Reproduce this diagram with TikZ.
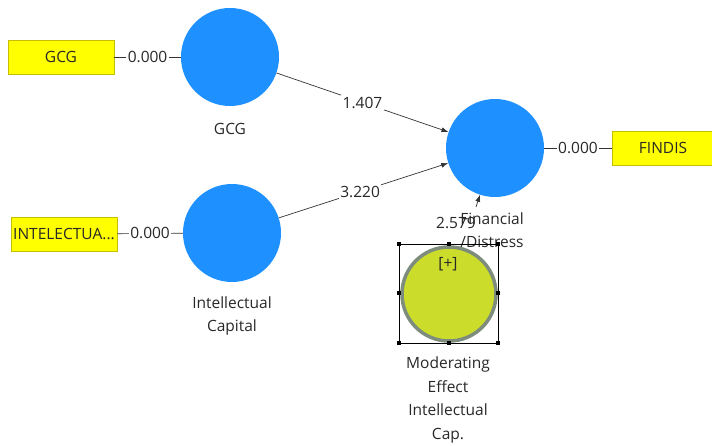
\documentclass[tikz,border=0pt]{standalone}
\usepackage{fontspec}
\setmainfont{Open Sans}
\usetikzlibrary{arrows.meta}
\definecolor{lvblue}{RGB}{30,144,255}
\definecolor{indyel}{RGB}{255,255,0}
\definecolor{indbord}{RGB}{200,190,0}
\definecolor{modfill}{RGB}{204,220,42}
\definecolor{modbord}{RGB}{125,140,125}
\definecolor{txt}{RGB}{40,40,40}
\begin{document}
\begin{tikzpicture}[x=1pt,y=-1pt,
  every node/.style={font=\fontsize{15.5}{23.5}\selectfont, text=txt},
  latent/.style={circle, fill=lvblue, minimum size=98pt, inner sep=0pt},
  modlatent/.style={circle, fill=modfill, draw=modbord, line width=3.5pt, minimum size=94pt, inner sep=0pt},
  indbox/.style={fill=indyel, draw=indbord, line width=0.6pt, minimum height=34pt, inner sep=1pt},
  lbl/.style={align=center, inner sep=0pt},
  wlbl/.style={fill=white, inner sep=1.5pt},
  path/.style={draw=black!80, line width=0.7pt, -{Latex[length=7pt,width=5pt]}},
  loading/.style={draw=black!80, line width=0.7pt},
  handle/.style={fill=black, minimum size=4pt, inner sep=0pt}]
\useasboundingbox (0,0) rectangle (712,446);
% latent variables
\node[latent] (gcg) at (230,57) {};
\node[latent] (ic) at (232,233) {};
\node[latent] (fd) at (495,148) {};
\node[modlatent] (mod) at (449,294) {};
\node at (448,264) {[+]};
% labels
\node[lbl] (gcgl) at (230,129) {GCG};
\node[lbl] (icl) at (232,316) {Intellectual\\Capital};
\node[lbl] (fdl) at (492,230) {Financial\\/Distress};
\node[lbl] (modl) at (448,400) {Moderating\\Effect\\Intellectual\\Cap.};
% indicators
\node[indbox, minimum width=106pt] (gcgi) at (61,57) {GCG};
\node[indbox, minimum width=106pt, inner sep=0pt] (ici) at (64,234) {INTELECTUA...};
\node[indbox, minimum width=102pt] (fdi) at (663,148) {FINDIS};
% loadings
\draw[loading] (gcgi) -- node[wlbl] {0.000} (gcg);
\draw[loading] (ici) -- node[wlbl] {0.000} (ic);
\draw[loading] (fd) -- node[wlbl] {0.000} (fdi);
% paths
\draw[path] (gcg) -- node[wlbl, pos=0.5] {1.407} (fd);
\draw[path] (ic) -- node[wlbl, pos=0.48] {3.220} (fd);
\coordinate (mstart) at (476,207);
\draw[path] (mstart) -- (fd);
\node[lbl] (mv) at (456,223) {2.579};
% selection box
\draw[black, line width=0.6pt] (399,244) rectangle (498,343);
\foreach \p in {(399,244),(448.5,244),(498,244),(399,293.5),(498,293.5),(399,343),(448.5,343),(498,343)}
  \node[handle] at \p {};
\end{tikzpicture}
\end{document}
